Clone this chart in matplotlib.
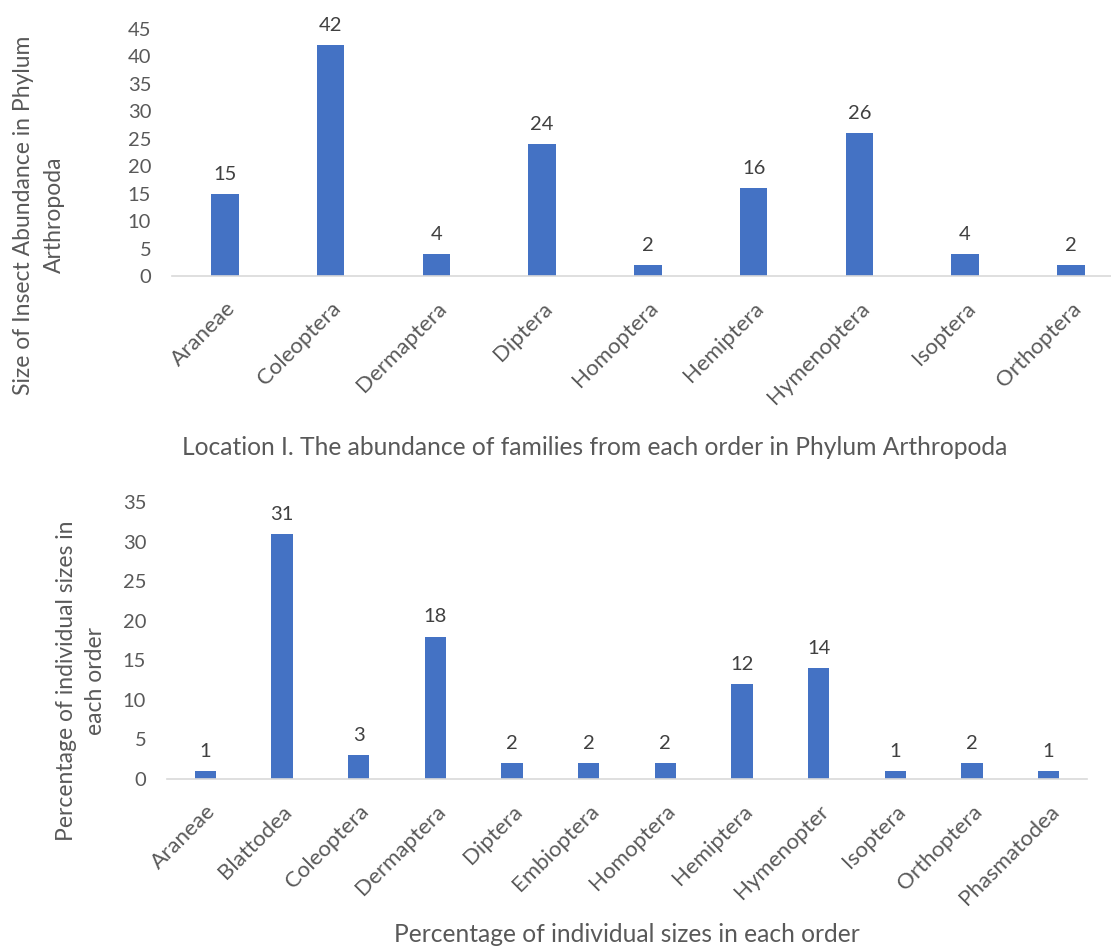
import matplotlib.pyplot as plt

# Location I: number of families per order
orders_top = ["Araneae", "Coleoptera", "Dermaptera", "Diptera", "Homoptera",
              "Hemiptera", "Hymenoptera", "Isoptera", "Orthoptera"]
families_top = [15, 42, 4, 24, 2, 16, 26, 4, 2]
yticks_top = [0, 5, 10, 15, 20, 25, 30, 35, 40, 45]

# Percentage of individuals in each order
orders_bot = ["Araneae", "Blattodea", "Coleoptera", "Dermaptera", "Diptera",
              "Embioptera", "Homoptera", "Hemiptera", "Hymenopter", "Isoptera",
              "Orthoptera", "Phasmatodea"]
percent_bot = [1, 31, 3, 18, 2, 2, 2, 12, 14, 1, 2, 1]
yticks_bot = [0, 5, 10, 15, 20, 25, 30, 35]

BAR = "#4472C4"
TXT = "#595959"
AXL = "#D9D9D9"
FONT = "Lato"

W, H = 1111, 947
fig = plt.figure(figsize=(W / 100, H / 100), dpi=100)
plt.rcParams["font.family"] = [FONT, "DejaVu Sans"]


def px_axes(left, top, right, bottom):
    return fig.add_axes([left / W, 1 - bottom / H, (right - left) / W, (bottom - top) / H])


def style(ax, cats, yticks, ymax, xmax):
    x = range(len(cats))
    ax.set_ylim(0, ymax)
    ax.set_xlim(-0.5, xmax)
    ax.set_yticks(yticks)
    ax.set_xticks(list(x))
    ax.set_xticklabels(cats, rotation=45, ha="right", va="top",
                       rotation_mode="anchor", fontsize=16, color=TXT)
    ax.tick_params(axis="y", length=0, pad=15, labelsize=14.5, labelcolor=TXT)
    ax.tick_params(axis="x", length=0, pad=16)
    for s in ["top", "right", "left"]:
        ax.spines[s].set_visible(False)
    ax.spines["bottom"].set_color(AXL)
    ax.spines["bottom"].set_linewidth(1.2)
    ax.patch.set_visible(False)


# top panel
ax1 = px_axes(172, 29, 1111, 276)
n1 = len(orders_top)
span1 = (1111 - 172) / 105.75
bars1 = ax1.bar(range(n1), families_top, width=0.26, color=BAR, zorder=2)
style(ax1, orders_top, yticks_top, 45, span1 - 0.5)
ax1.bar_label(bars1, labels=[str(v) for v in families_top], padding=8,
              fontsize=14.5, color="#404040")
fig.text(39 / W, 1 - 215 / H, "Size of Insect Abundance in Phylum\nArthropoda",
         rotation=90, ha="center", va="center", fontsize=16.5, color=TXT,
         linespacing=1.6, multialignment="center")
fig.text(595 / W, 1 - 447 / H,
         "Location I. The abundance of families from each order in Phylum Arthropoda",
         ha="center", va="center", fontsize=17.7, color=TXT)

# bottom panel
ax2 = px_axes(167, 502, 1087, 779)
n2 = len(orders_bot)
bars2 = ax2.bar(range(n2), percent_bot, width=0.28, color=BAR, zorder=2)
style(ax2, orders_bot, yticks_bot, 35, n2 - 0.5)
ax2.bar_label(bars2, labels=[str(v) for v in percent_bot], padding=8,
              fontsize=14.5, color="#404040")
fig.text(81 / W, 1 - 681 / H, "Percentage of individual sizes in\neach order",
         rotation=90, ha="center", va="center", fontsize=16.5, color=TXT,
         linespacing=1.5, multialignment="center")
fig.text(627 / W, 1 - 934 / H, "Percentage of individual sizes in each order",
         ha="center", va="center", fontsize=17.7, color=TXT)

fig.savefig("out.png", dpi=100, facecolor="white")
